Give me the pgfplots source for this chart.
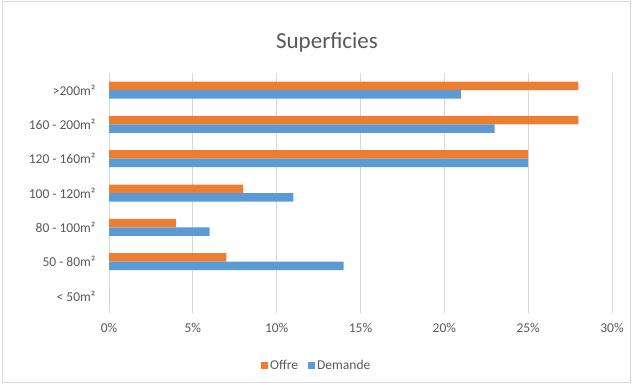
\documentclass[border=0pt]{standalone}
\usepackage{pgfplots}
\pgfplotsset{compat=1.18}
\usepackage{fontspec}
\setmainfont{Carlito}
\definecolor{offre}{HTML}{ED7D31}
\definecolor{demande}{HTML}{5B9BD5}
\definecolor{gridc}{HTML}{D9D9D9}
\definecolor{txt}{HTML}{595959}

\begin{document}
\begin{tikzpicture}[x=1pt,y=1pt]
\useasboundingbox (0,0) rectangle (634,384);
\draw[gridc, line width=0.8pt] (2.5,1.5) rectangle (630.5,382.5);
\node[txt, font=\fontsize{23}{26}\selectfont] at (327,342) {Superficies};
\begin{axis}[
  at={(109pt,71pt)}, anchor=south west,
  scale only axis, width=503pt, height=240pt,
  xbar, bar width=8.5pt,
  xmin=0, xmax=30, ymin=-0.5, ymax=6.5,
  xtick={0,5,...,30},
  xticklabel={\pgfmathprintnumber{\tick}\%},
  /pgf/number format/assume math mode=true,
  ytick={0,...,6},
  yticklabels={{< 50m²},{50 - 80m²},{80 - 100m²},{100 - 120m²},{120 - 160m²},{160 - 200m²},{>200m²}},
  xmajorgrids, major grid style={gridc, line width=0.8pt},
  axis line style={draw=none},
  major tick length=0pt,
  tick label style={txt, font=\fontsize{13.5}{15}\selectfont},
  xticklabel style={yshift=-7pt},
  yticklabel style={xshift=-10pt},
  legend style={at={(0.413,-0.22)}, anchor=center, draw=none, fill=none,
    font=\fontsize{13.5}{15}\selectfont, text=txt,
    legend columns=2, /tikz/every even column/.append style={column sep=8pt}},
  legend image code/.code={\fill[#1] (0pt,-3.5pt) rectangle (7pt,3.5pt);},
]
\addplot[draw=none, fill=offre, bar shift=4.25pt] coordinates {
  (0,0) (7,1) (4,2) (8,3) (25,4) (28,5) (28,6)};
\addplot[draw=none, fill=demande, bar shift=-4.25pt] coordinates {
  (0,0) (14,1) (6,2) (11,3) (25,4) (23,5) (21,6)};
\legend{Offre, Demande}
\end{axis}
\end{tikzpicture}
\end{document}
